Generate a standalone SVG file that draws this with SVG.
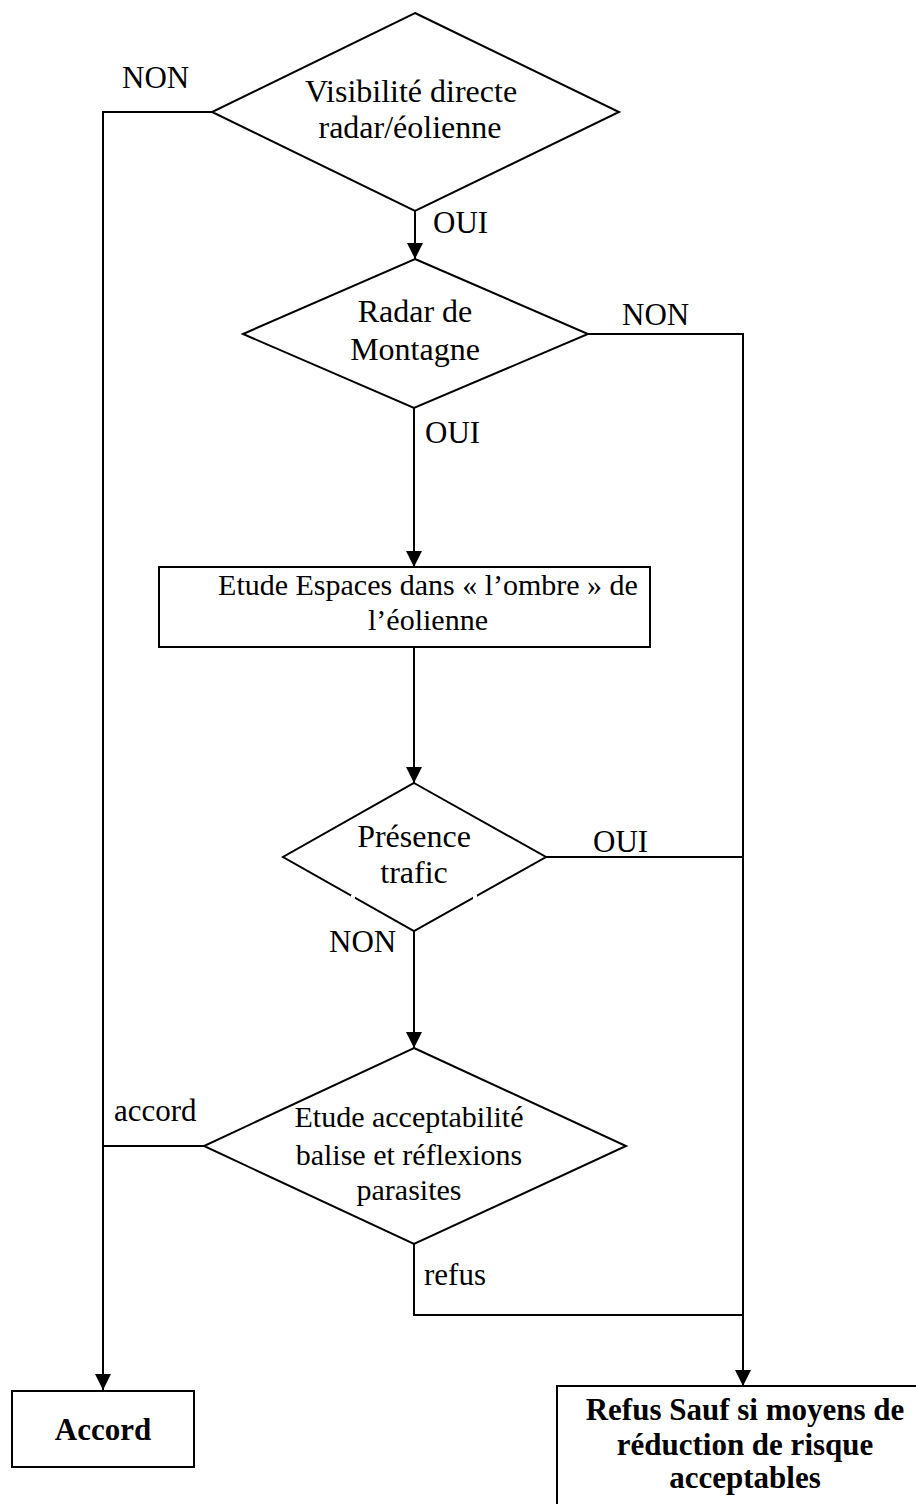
<svg xmlns="http://www.w3.org/2000/svg" width="916" height="1504" viewBox="0 0 916 1504">
<style>
.shape{fill:#fff;stroke:#000;stroke-width:2}
.line{fill:none;stroke:#000;stroke-width:2}
text{font-family:"Liberation Serif","Times New Roman",serif;font-size:31px;fill:#000}
.c{text-anchor:middle}
.n{font-size:32px}
.m{font-size:30px}
.b{font-weight:bold;font-size:31px}
</style>
<defs>
<marker id="arr" markerWidth="16" markerHeight="16" viewBox="0 0 16 16" refX="16" refY="8" orient="auto" markerUnits="userSpaceOnUse">
<path d="M0,0 L16,8 L0,16 Z" fill="#000"/>
</marker>
</defs>
<rect width="916" height="1504" fill="#fff"/>
<g id="connectors">
<path class="line" d="M212,112 H103 V1390" marker-end="url(#arr)"/>
<path class="line" d="M204,1146 H103"/>
<path class="line" d="M415,211 V259" marker-end="url(#arr)"/>
<path class="line" d="M588,334 H743 V1386" marker-end="url(#arr)"/>
<path class="line" d="M546,857 H743"/>
<path class="line" d="M414,408 V567" marker-end="url(#arr)"/>
<path class="line" d="M414,647 V783" marker-end="url(#arr)"/>
<path class="line" d="M414,931 V1048" marker-end="url(#arr)"/>
<path class="line" d="M414,1244 V1315 H743"/>
<text x="122" y="88">NON</text>
<text x="433" y="233">OUI</text>
<text x="622" y="325">NON</text>
<text x="425" y="443">OUI</text>
<text x="593" y="852">OUI</text>
<text x="329" y="952">NON</text>
<text x="114" y="1121">accord</text>
<text x="424" y="1285">refus</text>
</g>
<g id="d1">
<polygon class="shape" points="415,13 619,112 415,211 212,112"/>
<text class="c n" x="411" y="102">Visibilité directe</text>
<text class="c n" x="410" y="138">radar/éolienne</text>
</g>
<g id="d2">
<polygon class="shape" points="415,259 588,334 414,408 243,334"/>
<text class="c n" x="415" y="322">Radar de</text>
<text class="c n" x="415" y="360">Montagne</text>
</g>
<g id="r1">
<rect class="shape" x="159" y="567" width="491" height="80"/>
<text class="c m" x="428" y="595">Etude Espaces dans « l’ombre » de</text>
<text class="c m" x="428" y="630">l’éolienne</text>
</g>
<g id="d3">
<polygon class="shape" points="414,783 546,857 414,931 283,857"/>
<text class="c n" x="414" y="847">Présence</text>
<text class="c n" x="414" y="883">trafic</text>
<rect x="351" y="895" width="4" height="4" fill="#fff"/>
<rect x="473" y="895" width="4" height="4" fill="#fff"/>
</g>
<g id="d4">
<polygon class="shape" points="414,1048 626,1146 414,1244 204,1146"/>
<text class="c m" x="409" y="1127">Etude acceptabilité</text>
<text class="c m" x="409" y="1165">balise et réflexions</text>
<text class="c m" x="409" y="1200">parasites</text>
</g>
<g id="accord">
<rect class="shape" x="12" y="1391" width="182" height="76"/>
<text class="c b" x="103" y="1440">Accord</text>
</g>
<g id="refus">
<rect class="shape" x="557" y="1386" width="380" height="140"/>
<text class="c b" x="745" y="1420">Refus Sauf si moyens de</text>
<text class="c b" x="745" y="1455">réduction de risque</text>
<text class="c b" x="745" y="1488">acceptables</text>
</g>
</svg>
